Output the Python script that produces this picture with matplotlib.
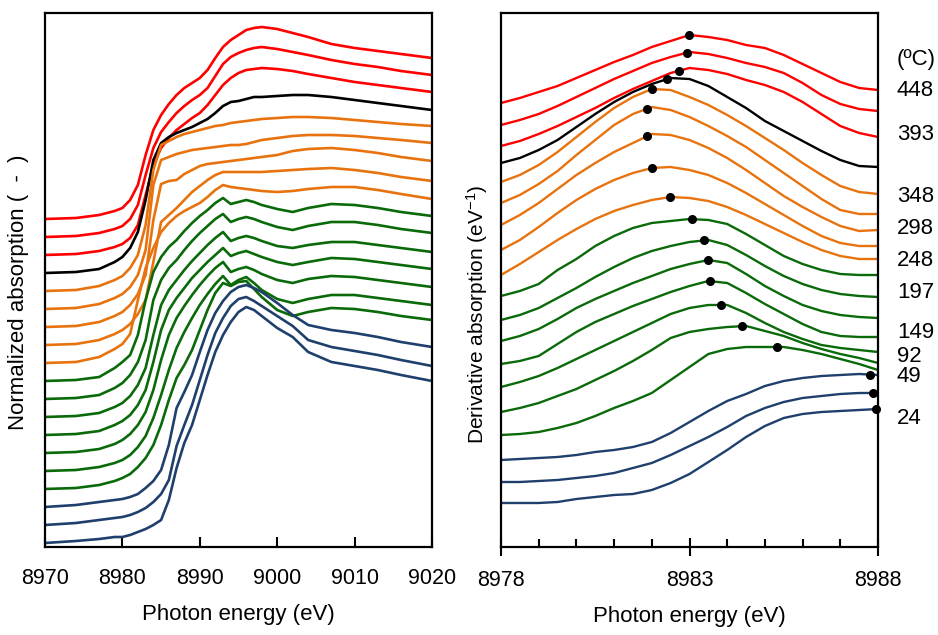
import numpy as np
import matplotlib
matplotlib.use("Agg")
import matplotlib.pyplot as plt
import matplotlib.transforms as mtransforms
from matplotlib.ticker import MultipleLocator

plt.rcParams["font.family"] = ["Liberation Sans", "DejaVu Sans"]
plt.rcParams["mathtext.fontset"] = "custom"
plt.rcParams["mathtext.rm"] = "Liberation Sans"
plt.rcParams["mathtext.it"] = "Liberation Sans:italic"

# ---------------------------------------------------------------- XANES data
# photon energy grid (eV) for the normalized Cu K-edge spectra
energy_xanes = [8970, 8974, 8977, 8979, 8980, 8981, 8982, 8983, 8984, 8985, 8986,
                8987, 8988, 8989, 8990, 8991, 8992, 8993, 8994, 8995, 8996, 8997,
                8998, 9000, 9002, 9004, 9007, 9010, 9013, 9016, 9020]

# absorption (raw counts above the 8970 eV pre-edge), listed from the top spectrum down
xanes_red = [
    [0, 1, 4, 8, 11, 19, 34, 64, 89, 104, 115, 124, 131, 136, 141, 149, 161, 172, 179, 184, 189, 191, 192, 190, 186, 182, 175, 171, 168, 165, 161],
    [0, 1, 4, 8, 11, 18, 32, 62, 89, 105, 115, 124, 131, 137, 142, 149, 161, 173, 180, 184, 187, 189, 190, 188, 185, 182, 177, 173, 170, 166, 162],
    [0, 1, 4, 8, 11, 17, 30, 60, 90, 107, 117, 125, 131, 137, 142, 150, 160, 170, 177, 182, 185, 186, 187, 186, 184, 181, 177, 173, 170, 167, 163],
]
xanes_black = [
    [0, 1, 4, 11, 16, 25, 41, 73, 113, 130, 136, 140, 143, 146, 150, 154, 160, 167, 171, 172, 174, 176, 176, 177, 178, 178, 176, 173, 170, 167, 163],
]
xanes_orange = [
    [0, 1, 5, 11, 15, 23, 36, 66, 121, 146, 150, 154, 157, 159, 161, 163, 165, 166, 168, 169, 170, 171, 172, 173, 174, 174, 173, 171, 169, 167, 165],
    [0, 1, 5, 11, 15, 22, 34, 59, 124, 149, 152, 155, 157, 159, 160, 161, 162, 163, 164, 164, 165, 167, 169, 171, 173, 174, 174, 173, 171, 169, 166],
    [0, 1, 5, 11, 15, 22, 33, 52, 107, 143, 146, 147, 153, 157, 161, 163, 164, 165, 166, 167, 168, 169, 170, 172, 176, 178, 179, 177, 174, 170, 166],
    [0, 1, 5, 11, 15, 21, 31, 45, 83, 123, 130, 137, 145, 153, 159, 165, 170, 173, 173, 173, 173, 173, 173, 174, 175, 176, 177, 175, 172, 168, 164],
    [0, 1, 6, 14, 19, 29, 63, 95, 115, 131, 140, 147, 152, 156, 160, 166, 173, 178, 176, 175, 174, 173, 172, 171, 172, 174, 176, 176, 173, 169, 164],
]
xanes_green = [
    [0, 1, 4, 13, 19, 26, 46, 81, 109, 124, 134, 141, 150, 158, 165, 171, 178, 183, 177, 179, 181, 179, 176, 172, 169, 173, 177, 176, 173, 169, 165],
    [0, 1, 4, 11, 16, 24, 37, 59, 99, 119, 131, 139, 149, 158, 166, 173, 180, 185, 177, 180, 182, 180, 177, 172, 169, 173, 177, 177, 174, 170, 166],
    [0, 1, 4, 10, 14, 21, 32, 49, 82, 112, 127, 137, 147, 156, 164, 172, 179, 185, 176, 179, 181, 179, 176, 171, 169, 172, 175, 175, 172, 169, 165],
    [0, 1, 4, 10, 14, 20, 30, 45, 73, 105, 125, 137, 147, 157, 165, 173, 180, 187, 179, 182, 184, 181, 178, 173, 170, 173, 177, 176, 173, 170, 166],
    [0, 1, 4, 9, 13, 19, 28, 41, 63, 93, 118, 135, 147, 158, 168, 177, 185, 191, 181, 184, 186, 183, 179, 173, 170, 174, 177, 176, 173, 170, 166],
    [0, 1, 4, 8, 11, 16, 24, 35, 53, 76, 101, 123, 139, 153, 166, 177, 187, 195, 186, 191, 194, 188, 181, 172, 168, 172, 176, 176, 173, 170, 166],
    [0, 1, 4, 8, 11, 15, 22, 31, 44, 64, 89, 111, 124, 139, 159, 179, 196, 206, 203, 207, 208, 200, 192, 179, 173, 177, 181, 180, 177, 173, 169],
]
xanes_blue = [
    [0, 2, 5, 7, 8, 10, 13, 19, 26, 37, 62, 99, 115, 132, 155, 177, 194, 206, 215, 220, 222, 219, 215, 204, 192, 182, 177, 174, 170, 165, 160],
    [0, 2, 5, 7, 8, 10, 13, 17, 23, 31, 45, 79, 100, 120, 145, 170, 192, 207, 219, 226, 228, 224, 219, 209, 199, 185, 178, 174, 170, 165, 159],
    [0, 2, 4, 6, 6, 8, 11, 14, 18, 23, 43, 75, 100, 118, 143, 168, 191, 208, 221, 231, 236, 233, 227, 215, 206, 191, 181, 177, 173, 168, 162],
]
EDGE_JUMP = 160.0  # raw counts per unit edge step

# ----------------------------------------------------------- derivative data
energy_deriv = [8978.0, 8978.5, 8979.0, 8979.5, 8980.0, 8980.5, 8981.0, 8981.5, 8982.0,
                8982.5, 8983.0, 8983.5, 8984.0, 8984.5, 8985.0, 8985.5, 8986.0, 8986.5,
                8987.0, 8987.5, 8988.0]

# first derivative (arb. units, relative to the 8978 eV value), top spectrum first
deriv_red = [
    [0, 5, 11, 17, 25, 33, 41, 48, 56, 62, 68, 66, 63, 58, 55, 48, 39, 30, 21, 15, 13],
    [0, 5, 11, 19, 28, 37, 46, 54, 62, 68, 73, 71, 67, 62, 58, 52, 42, 30, 21, 16, 14],
    [0, 5, 12, 20, 29, 38, 48, 57, 65, 73, 78, 76, 72, 66, 61, 54, 44, 32, 20, 13, 9],
]
deriv_black = [
    [0, 5, 13, 23, 36, 49, 61, 71, 79, 85, 84, 77, 66, 55, 42, 32, 22, 12, 3, -3, -4],
]
deriv_orange = [
    [0, 7, 17, 30, 45, 60, 74, 85, 93, 92, 85, 77, 67, 56, 44, 32, 19, 7, -4, -10, -12],
    [0, 8, 19, 32, 48, 63, 78, 89, 96, 93, 86, 77, 67, 56, 43, 30, 17, 4, -7, -11, -11],
    [0, 10, 22, 36, 50, 62, 73, 82, 91, 90, 85, 77, 67, 55, 42, 29, 18, 8, -1, -6, -5],
    [0, 10, 23, 37, 50, 61, 70, 77, 82, 83, 80, 75, 67, 57, 46, 35, 24, 14, 7, 4, 4],
    [0, 11, 23, 35, 46, 56, 64, 70, 75, 78, 77, 74, 68, 60, 51, 42, 33, 25, 19, 16, 16],
]
deriv_green = [
    [0, 5, 12, 26, 37, 50, 60, 68, 73, 75, 77, 76, 72, 62, 51, 40, 32, 26, 22, 21, 21],
    [0, 5, 12, 22, 32, 43, 53, 62, 69, 74, 78, 80, 75, 65, 54, 44, 36, 30, 26, 24, 23],
    [0, 5, 12, 22, 33, 42, 50, 58, 65, 72, 77, 81, 78, 67, 55, 45, 36, 30, 26, 24, 23],
    [0, 3, 8, 20, 32, 42, 50, 58, 65, 72, 78, 83, 81, 71, 60, 50, 40, 32, 28, 27, 27],
    [0, 5, 11, 19, 28, 37, 46, 55, 64, 73, 79, 82, 82, 74, 64, 55, 48, 42, 39, 37, 35],
    [0, 4, 9, 16, 23, 32, 41, 51, 62, 74, 80, 83, 85, 86, 81, 76, 69, 63, 58, 54, 49],
    [0, 1, 3, 7, 12, 19, 27, 34, 42, 55, 68, 81, 86, 88, 88, 88, 85, 81, 76, 71, 65],
]
deriv_blue = [
    [0, 1, 2, 3, 5, 8, 10, 13, 18, 27, 38, 49, 59, 66, 74, 79, 82, 84, 85, 86, 85],
    [0, 0, 1, 2, 4, 6, 9, 14, 19, 27, 36, 45, 55, 66, 74, 80, 84, 86, 88, 89, 89],
    [0, 0, 0, 1, 4, 6, 8, 9, 13, 20, 29, 41, 53, 66, 77, 85, 89, 91, 92, 93, 94],
]
# stacking offsets of the derivative spectra (arb. units), top spectrum first
deriv_offsets = [444, 422, 401, 384, 365, 344, 322, 297, 272, 251, 227, 206, 183,
                 160, 135, 112, 87, 65, 44]
# energy of the derivative maximum for each spectrum (eV), top spectrum first
peak_energy = [8982.99, 8982.93, 8982.72, 8982.40, 8982.01, 8981.87, 8981.87,
               8982.01, 8982.48, 8983.07, 8983.38, 8983.49, 8983.54, 8983.84,
               8984.39, 8985.32, 8987.79, 8987.87, 8987.95]

temperature_labels = ["(ºC)", "448", "393", "348", "298", "248", "197", "149",
                      "92", "49", "24"]

# ------------------------------------------------------------------- styles
COLORS = {"red": "#FF0000", "black": "#000000", "orange": "#E8730E",
          "green": "#0A6A0A", "blue": "#1F3F6D"}
xanes_groups = [("red", xanes_red), ("black", xanes_black), ("orange", xanes_orange),
                ("green", xanes_green), ("blue", xanes_blue)]
deriv_groups = [("red", deriv_red), ("black", deriv_black), ("orange", deriv_orange),
                ("green", deriv_green), ("blue", deriv_blue)]
XANES_STEP = 18 / 160.0
label_y = [487, 456, 412, 350, 318, 286, 254, 214, 190, 170, 129]
FS = 16

W, H = 938, 635
fig = plt.figure(figsize=(W / 100, H / 100), dpi=100)
ax1 = fig.add_axes([45 / W, 1 - 547 / H, 387 / W, 534 / H])
ax2 = fig.add_axes([501 / W, 1 - 547 / H, 377 / W, 534 / H])

# left panel: stacked XANES spectra
spectra = [(COLORS[c], s) for c, grp in xanes_groups for s in grp]
n = len(spectra)
for i, (col, s) in enumerate(spectra):
    y = np.asarray(s, float) / EDGE_JUMP + (n - 1 - i) * XANES_STEP
    ax1.plot(energy_xanes, y, color=col, lw=1.9, solid_joinstyle="round")
ax1.set_xlim(8970, 9020)
ax1.set_ylim(-0.025, 3.3125)
ax1.xaxis.set_major_locator(MultipleLocator(10))
ax1.set_yticks([])
ax1.tick_params(axis="x", direction="in", length=7, width=1.5, labelsize=15.5, pad=15)
ax1.set_xlabel("Photon energy (eV)", fontsize=FS, labelpad=11)
ax1.set_ylabel("Normalized absorption (  -  )", fontsize=FS)
ax1.yaxis.set_label_coords(-0.042, 0.477)

# right panel: stacked first derivatives with their maxima
dcurves = [(COLORS[c], s) for c, grp in deriv_groups for s in grp]
for i, (col, s) in enumerate(dcurves):
    y = np.asarray(s, float) + deriv_offsets[i]
    ax2.plot(energy_deriv, y, color=col, lw=1.7, solid_joinstyle="round")
    ypk = np.interp(peak_energy[i], energy_deriv, y)
    ax2.plot([peak_energy[i]], [ypk], "o", color="black", ms=5.5, zorder=5,
             clip_on=False)
ax2.set_xlim(8978, 8988)
ax2.set_ylim(0, 534)
ax2.set_xticks([8978, 8983, 8988])
ax2.xaxis.set_minor_locator(MultipleLocator(1))
ax2.set_yticks([])
ax2.tick_params(axis="x", which="major", direction="inout", length=13, width=1.5,
                labelsize=15.5, pad=10)
ax2.tick_params(axis="x", which="minor", direction="in", length=6, width=1.5)
ax2.set_xlabel("Photon energy (eV)", fontsize=FS, labelpad=11)
ax2.set_ylabel("Derivative absorption (eV$^{-1}$)", fontsize=15)
ax2.yaxis.set_label_coords(-0.03, 0.435)

trans = mtransforms.blended_transform_factory(ax2.transAxes, ax2.transData)
for txt, yy in zip(temperature_labels, label_y):
    ax2.text(1.05, yy, txt, transform=trans, ha="left", va="center", fontsize=FS)

for ax in (ax1, ax2):
    for sp in ax.spines.values():
        sp.set_linewidth(1.6)

fig.savefig("out.png", dpi=100)
